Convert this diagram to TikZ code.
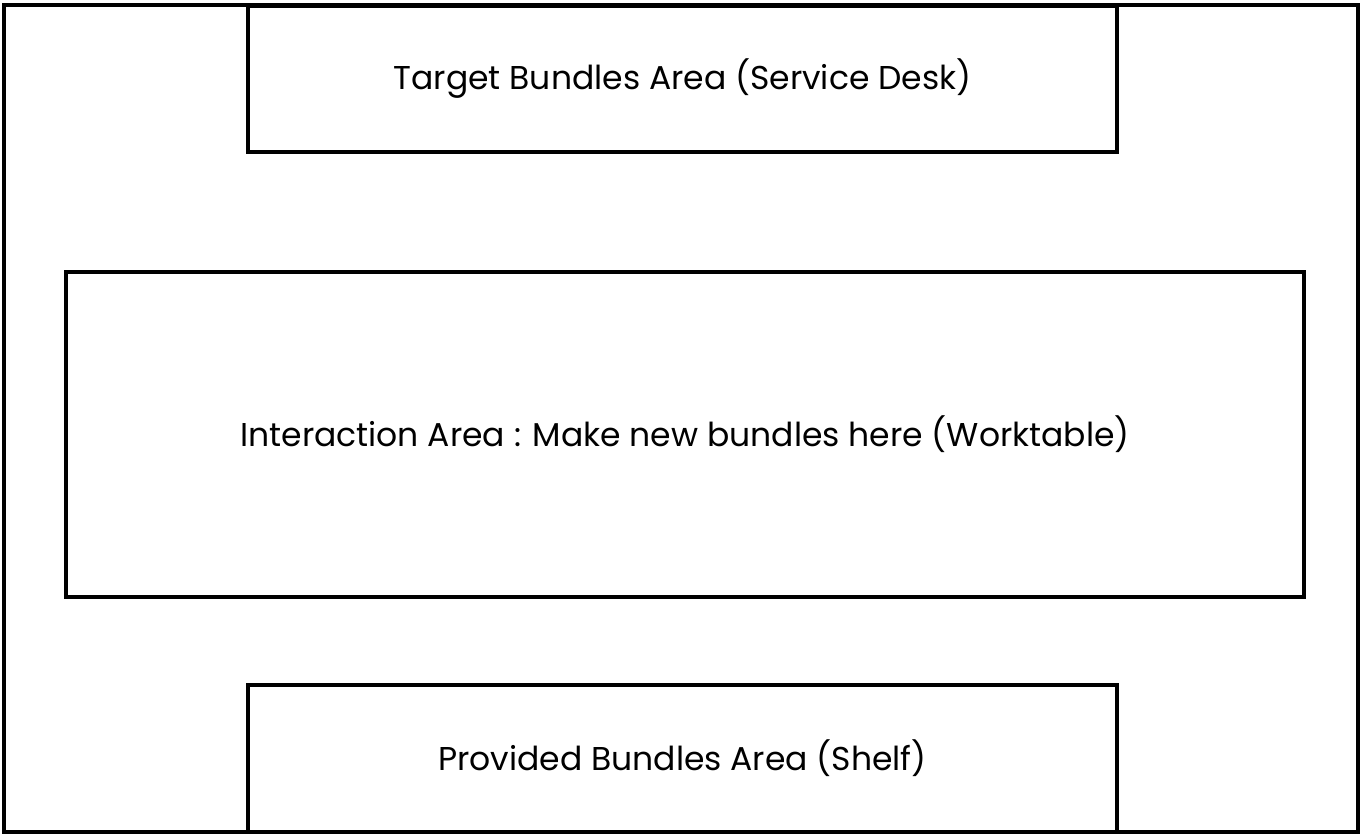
\documentclass[tikz,border=0pt]{standalone}
\usepackage{fontspec}
\setmainfont{Poppins}
\begin{document}
\begin{tikzpicture}[
        x=1pt, y=-1pt,
        frame/.style={rectangle, draw=black, line width=3.4pt, fill=white, inner sep=0pt},
        area/.style={rectangle, draw=black, line width=3.4pt, fill=white, inner sep=0pt, font=\fontsize{33}{40}\selectfont}
    ]
    \useasboundingbox (0,0) rectangle (1364,838);

    \node[frame, minimum width=1354pt, minimum height=827pt] (room) at (681,418.5) {};
    \node[area, minimum width=869pt, minimum height=146pt] (desk) at (682.5,79) {Target Bundles Area (Service Desk)};
    \node[area, minimum width=1238pt, minimum height=325pt] (table) at (685,434.5) {Interaction Area : Make new bundles here (Worktable)};
    \node[area, minimum width=869pt, minimum height=147pt] (shelf) at (682.5,758.5) {Provided Bundles Area (Shelf)};

\end{tikzpicture}
\end{document}
